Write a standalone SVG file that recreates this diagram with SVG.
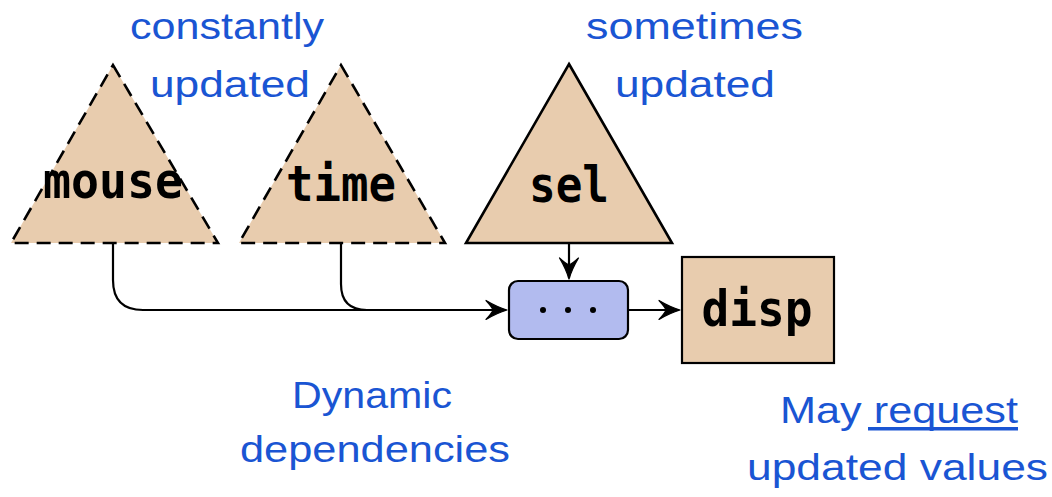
<svg xmlns="http://www.w3.org/2000/svg" width="1052" height="497" viewBox="0 0 1052 497">
<defs>
<style>
.tri{fill:#e8ccae;stroke:#000;stroke-width:2.6;stroke-linejoin:miter}
.dash{stroke-dasharray:14 8}
.lbl{font-family:"DejaVu Sans Mono","Liberation Mono",monospace;font-weight:bold;font-size:50px;fill:#000;text-anchor:middle}
.note{font-family:"Liberation Sans","DejaVu Sans",sans-serif;font-size:36px;fill:#1a55d3}
.edge{fill:none;stroke:#000;stroke-width:2.2}
</style>
<marker id="arr" markerUnits="userSpaceOnUse" markerWidth="24" markerHeight="24" refX="0" refY="0" orient="auto" overflow="visible">
<path d="M1,0 Q-9,-3 -20,-9.5 Q-14,-3 -13,0 Q-14,3 -20,9.5 Q-9,3 1,0 Z" fill="#000" stroke="#000" stroke-width="1.2" stroke-linejoin="round"/>
</marker>
</defs>
<rect width="1052" height="497" fill="#fff"/>
<g id="connectors">
<path class="edge" d="M113,243 V280 Q113,310 143,310 H506" marker-end="url(#arr)"/>
<path class="edge" d="M341,243 V284 Q341,310 367,310 H500"/>
<path class="edge" d="M569,243 V278" marker-end="url(#arr)"/>
<path class="edge" d="M628,310 H679" marker-end="url(#arr)"/>
</g>
<g id="mouse">
<polygon class="tri dash" points="113,65 218,243 11,243"/>
<text class="lbl" x="113" y="198" textLength="140" lengthAdjust="spacingAndGlyphs">mouse</text>
</g>
<g id="time">
<polygon class="tri dash" points="341,65 445,243 239,243"/>
<text class="lbl" x="341" y="201" textLength="110" lengthAdjust="spacingAndGlyphs">time</text>
</g>
<g id="sel">
<polygon class="tri" points="569,64 672,243 466,243"/>
<text class="lbl" x="569" y="202" textLength="80" lengthAdjust="spacingAndGlyphs">sel</text>
</g>
<g id="proc">
<rect x="509" y="281" width="119" height="58" rx="9" fill="#b2bbef" stroke="#000" stroke-width="2.2"/>
<circle cx="543" cy="310" r="3"/>
<circle cx="568" cy="310" r="3"/>
<circle cx="593" cy="310" r="3"/>
</g>
<g id="disp">
<rect x="682" y="257" width="152" height="106" fill="#e8ccae" stroke="#000" stroke-width="2.2"/>
<text class="lbl" x="757" y="326" textLength="111" lengthAdjust="spacingAndGlyphs">disp</text>
</g>
<g id="notes">
<text class="note" x="130" y="39" textLength="194" lengthAdjust="spacingAndGlyphs">constantly</text>
<text class="note" x="150" y="97" textLength="160" lengthAdjust="spacingAndGlyphs">updated</text>
<text class="note" x="586" y="39" textLength="217" lengthAdjust="spacingAndGlyphs">sometimes</text>
<text class="note" x="615" y="97" textLength="160" lengthAdjust="spacingAndGlyphs">updated</text>
<text class="note" x="292" y="408" textLength="160" lengthAdjust="spacingAndGlyphs">Dynamic</text>
<text class="note" x="240" y="462" textLength="270" lengthAdjust="spacingAndGlyphs">dependencies</text>
<text class="note" x="780" y="423" textLength="238" lengthAdjust="spacingAndGlyphs">May request</text>
<rect x="868" y="427" width="150" height="3.5" fill="#1a55d3"/>
<text class="note" x="747" y="480" textLength="301" lengthAdjust="spacingAndGlyphs">updated values</text>
</g>
</svg>
